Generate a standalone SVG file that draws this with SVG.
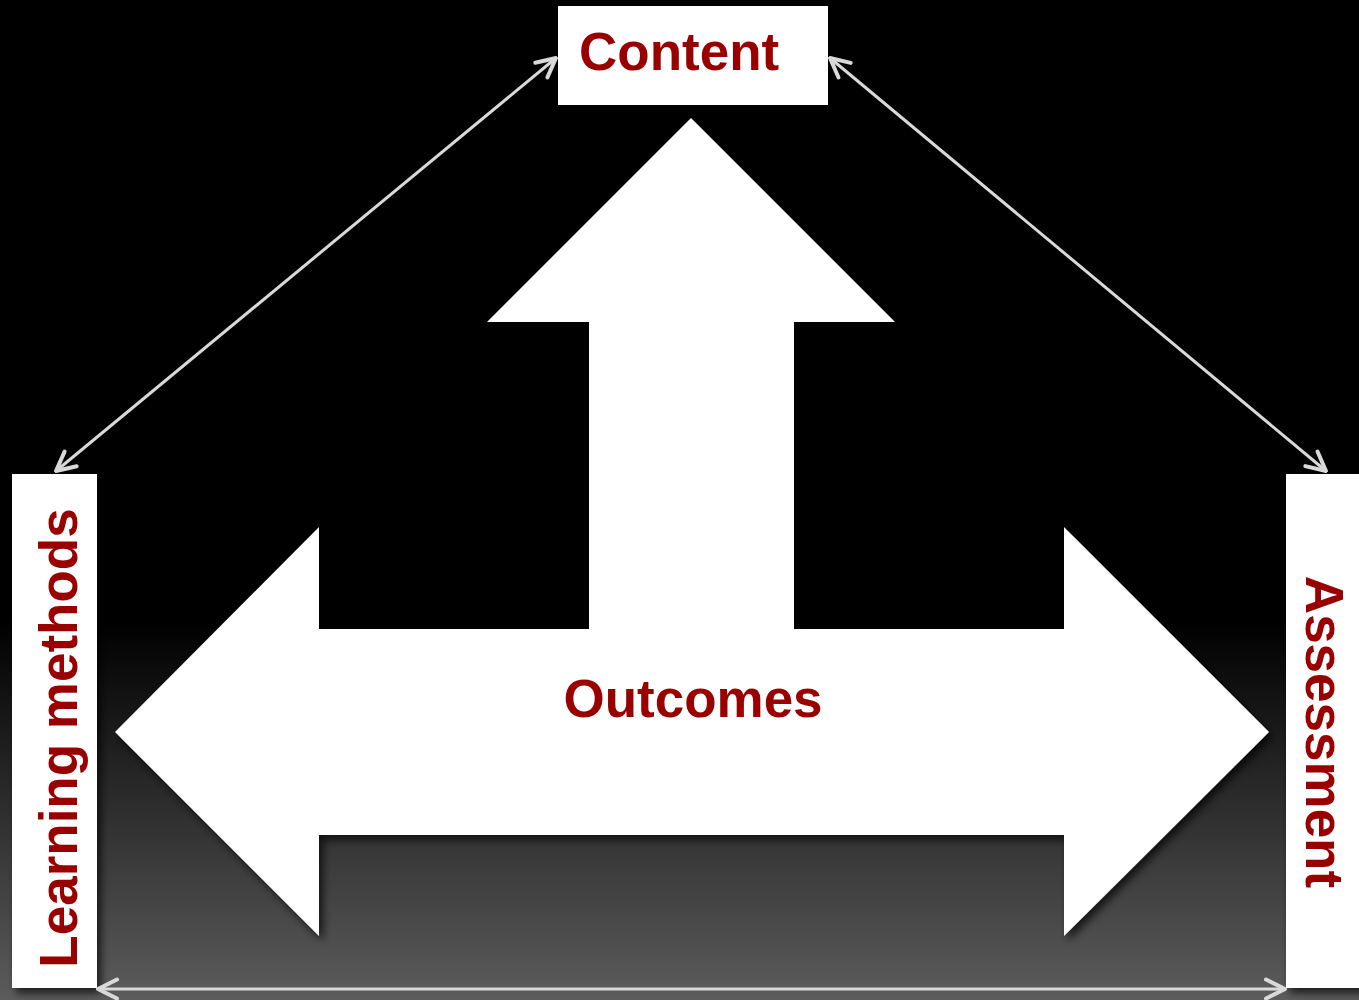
<svg xmlns="http://www.w3.org/2000/svg" width="1359" height="1000" viewBox="0 0 1359 1000">
<defs>
<linearGradient id="bg" x1="0" y1="0" x2="0" y2="1000" gradientUnits="userSpaceOnUse">
<stop offset="0" stop-color="#000"/>
<stop offset="0.62" stop-color="#000"/>
<stop offset="1" stop-color="#5c5c5c"/>
</linearGradient>
<filter id="sh" x="-10%" y="-10%" width="130%" height="130%">
<feGaussianBlur in="SourceAlpha" stdDeviation="4"/>
<feOffset dx="4" dy="5" result="b"/>
<feComponentTransfer><feFuncA type="linear" slope="0.7"/></feComponentTransfer>
<feMerge><feMergeNode/><feMergeNode in="SourceGraphic"/></feMerge>
</filter>
<marker id="ah" viewBox="0 0 24 24" markerWidth="24" markerHeight="24" refX="22" refY="12" orient="auto-start-reverse" markerUnits="userSpaceOnUse">
<path d="M3,2.5 L22,12 L3,21.5" fill="none" stroke="#d9d9d9" stroke-width="4" stroke-linecap="round" stroke-linejoin="round"/>
</marker>
</defs>
<style>
.lbl{font-family:"Liberation Sans",Arial,sans-serif;font-weight:bold;font-size:53px;fill:#990000}
.box{fill:#fff}
.conn{stroke:#d9d9d9;stroke-width:3;fill:none;marker-start:url(#ah);marker-end:url(#ah)}
</style>
<rect width="1359" height="1000" fill="url(#bg)"/>
<g id="outcomes">
<polygon points="691,118 895,322 794,322 794,629 1064,629 1064,527 1269,732 1064,936 1064,835 319,835 319,936 115,732 319,527 319,629 589,629 589,322 487,322" fill="#fff" filter="url(#sh)"/>
<text class="lbl" x="693" y="717" text-anchor="middle">Outcomes</text>
</g>
<g id="content">
<rect class="box" x="558" y="6" width="270" height="99" filter="url(#sh)"/>
<text class="lbl" x="579" y="70">Content</text>
</g>
<g id="learning-methods">
<rect class="box" x="12" y="474" width="85" height="514" filter="url(#sh)"/>
<text class="lbl" transform="translate(77,738) rotate(-90)" text-anchor="middle">Learning methods</text>
</g>
<g id="assessment">
<rect class="box" x="1286" y="474" width="80" height="514" filter="url(#sh)"/>
<text class="lbl" transform="translate(1306,732) rotate(90)" text-anchor="middle">Assessment</text>
</g>
<g id="connectors">
<line class="conn" x1="556" y1="58" x2="56" y2="471"/>
<line class="conn" x1="830" y1="58" x2="1326" y2="471"/>
<line class="conn" x1="98" y1="989" x2="1285" y2="989"/>
</g>
</svg>
